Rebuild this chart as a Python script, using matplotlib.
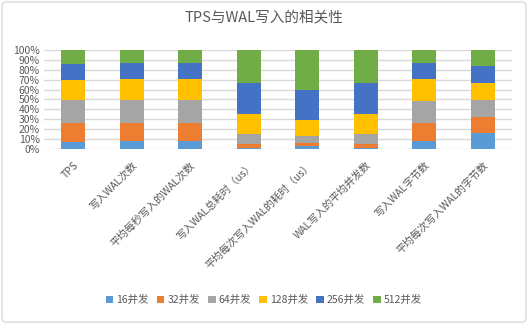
import matplotlib
matplotlib.use("Agg")
import matplotlib.pyplot as plt
from matplotlib.patches import FancyBboxPatch
import numpy as np

plt.rcParams['font.family'] = ['Noto Sans CJK SC', 'DejaVu Sans']

categories = ["TPS", "写入WAL次数", "平均每秒写入的WAL次数", "写入WAL总耗时（us）",
              "平均每次写入WAL的耗时（us）", "WAL写入的平均并发数", "写入WAL字节数",
              "平均每次写入WAL的字节数"]
series_names = ["16并发", "32并发", "64并发", "128并发", "256并发", "512并发"]

# share (%) of each concurrency level per metric
c16 = [7.4, 8.1, 8.1, 1.3, 3.4, 1.3, 8.1, 16.2]
c32 = [18.9, 18.2, 18.2, 4.1, 2.7, 4.1, 18.2, 16.1]
c64 = [23.2, 23.2, 23.2, 10.1, 7.4, 10.1, 22.2, 17.2]
c128 = [20.5, 21.2, 21.2, 20.2, 16.1, 20.2, 22.2, 17.2]
c256 = [16.2, 16.2, 16.2, 31.0, 30.3, 31.0, 16.2, 17.5]
c512 = [13.8, 13.1, 13.1, 33.3, 40.1, 33.3, 13.1, 15.8]

colors = ["#5B9BD5", "#ED7D31", "#A5A5A5", "#FFC000", "#4472C4", "#70AD47"]
text_color = "#595959"

fig = plt.figure(figsize=(5.28, 3.24), dpi=100)
ax = fig.add_axes([0.083, 0.54, 0.887, 0.306])

x = np.arange(len(categories))
bottom = np.zeros(len(categories))
for vals, name, col in zip([c16, c32, c64, c128, c256, c512], series_names, colors):
	ax.bar(x, vals, width=0.41, bottom=bottom, color=col, label=name, zorder=3)
	bottom += np.array(vals)

ax.set_xlim(-0.5, len(categories) - 0.5)
ax.set_ylim(0, 100)
ax.set_yticks(range(0, 101, 10))
ax.set_yticklabels(["%d%%" % v for v in range(0, 101, 10)], fontsize=7.5, color=text_color)
ax.set_xticks(x)
ax.set_xticklabels(categories, rotation=45, ha='right', rotation_mode='anchor',
                   fontsize=7.5, color=text_color)
ax.tick_params(axis='y', length=0, pad=3)
ax.tick_params(axis='x', length=0, pad=8)
ax.grid(True, axis='y', color="#D9D9D9", linewidth=1, zorder=0)
for s in ax.spines.values():
	s.set_visible(False)

fig.text(0.5, 0.945, "TPS与WAL写入的相关性", ha='center', va='center',
         fontsize=10.5, color=text_color)

fig.legend(loc='center', bbox_to_anchor=(0.5, 0.074), ncol=6, frameon=False,
           fontsize=7.5, handlelength=0.7, handleheight=0.7, handletextpad=0.3,
           columnspacing=0.8, labelcolor=text_color)

border = FancyBboxPatch((0.004, 0.006), 0.992, 0.988, boxstyle="round,pad=0,rounding_size=0.01",
                        transform=fig.transFigure, fill=False, edgecolor="#D9D9D9", linewidth=1)
fig.patches.append(border)

fig.savefig("out.png", dpi=100)
